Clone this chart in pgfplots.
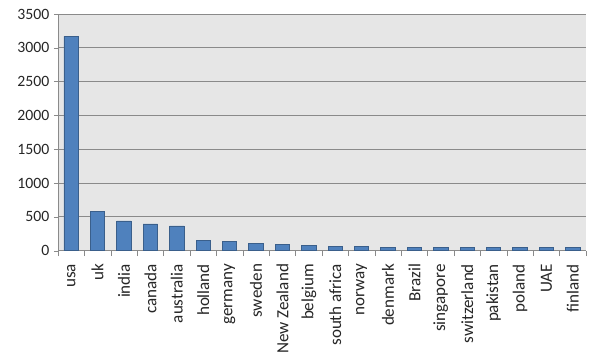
\documentclass[border=0pt]{standalone}
\usepackage{pgfplots}
\pgfplotsset{compat=1.18}
\usepackage{fontspec}
\setmainfont{Carlito}
\definecolor{barfill}{HTML}{4F81BD}
\definecolor{bardraw}{HTML}{3A5F8B}
\definecolor{bgc}{HTML}{E6E6E6}
\definecolor{gridc}{HTML}{8A8A8A}
\begin{document}
\begin{tikzpicture}
\path[use as bounding box] (-43.5pt,-80.3pt) rectangle (406.5pt,188pt);
\begin{axis}[
  at={(0,0)}, anchor=south west,
  scale only axis, width=396pt, height=177.5pt,
  xmin=-0.5, xmax=19.5, ymin=0, ymax=3500,
  ytick={0,500,...,3500},
  xtick={0,...,19},
  xticklabels={usa,uk,india,canada,australia,holland,germany,sweden,New Zealand,belgium,south africa,norway,denmark,Brazil,singapore,switzerland,pakistan,poland,UAE,finland},
  x tick label style={rotate=90, anchor=east, font=\fontsize{12.8}{14}\selectfont, xshift=-3.5pt},
  y tick label style={font=\fontsize{11.8}{13}\selectfont},
  /pgf/number format/assume math mode=true,
  /pgf/number format/1000 sep={},
  minor xtick={-0.5,0.5,...,19.5},
  major x tick style={draw=none},
  minor x tick style={draw=gridc},
  minor tick length=4pt,
  major tick length=3pt,
  tick align=outside,
  axis x line*=bottom, axis y line*=left,
  axis line style={draw=gridc, line width=0.6pt},
  ytick style={draw=gridc},
  ymajorgrids, grid style={draw=gridc, line width=0.6pt},
  axis background/.style={fill=bgc},
  tick label style={text=black!85},
]
\addplot[ybar, bar width=10.8pt, fill=barfill, draw=bardraw, line width=0.5pt] coordinates {
(0,3170) (1,580) (2,440) (3,395) (4,365) (5,155) (6,140) (7,110) (8,95) (9,80)
(10,65) (11,63) (12,48) (13,47) (14,46) (15,45) (16,45) (17,44) (18,43) (19,42)
};
\end{axis}
\end{tikzpicture}
\end{document}
